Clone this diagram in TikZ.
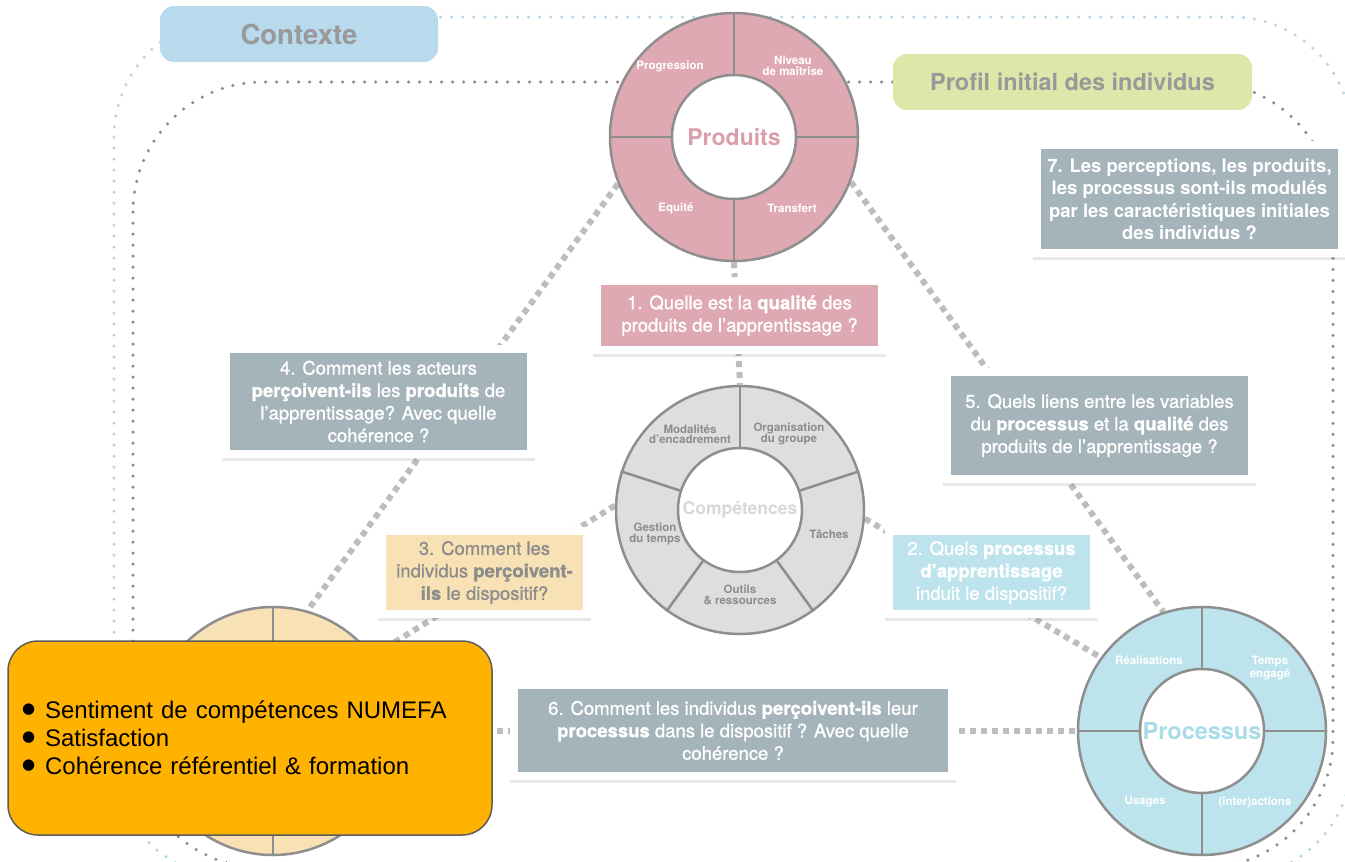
\documentclass[tikz,border=0pt]{standalone}
\usepackage{fontspec}
\setmainfont{TeX Gyre Heros}
\newfontfamily\cardfont[FakeBold=1]{TeX Gyre Heros}
\newfontfamily\slidefont{Liberation Sans}
\newfontfamily\dotfont{DejaVu Sans}
\usepackage{tikz}
\usetikzlibrary{shadows, backgrounds}
\definecolor{rim}{HTML}{8E8E8E}
\definecolor{pinkfill}{HTML}{DFA9B3}
\definecolor{pinktext}{HTML}{DA9EAC}
\definecolor{greyfill}{HTML}{DEDEDE}
\definecolor{greytext}{HTML}{8C8C8C}
\definecolor{centretext}{HTML}{D8D8D8}
\definecolor{bluefill}{HTML}{BDE3EC}
\definecolor{bluetext}{HTML}{A9DCE9}
\definecolor{wheatfill}{HTML}{F9E1B6}
\definecolor{qgrey}{HTML}{A4B4BA}
\definecolor{linkgrey}{HTML}{BDBDBD}
\definecolor{ctxblue}{HTML}{B8DAEC}
\definecolor{ctxdots}{HTML}{B5D8EA}
\definecolor{profgreen}{HTML}{DDE7AA}
\definecolor{profdots}{HTML}{8E8E8E}
\definecolor{amber}{HTML}{FFB300}
\definecolor{amberrim}{HTML}{5C5C5C}
\definecolor{tagtext}{HTML}{999999}
\tikzstyle{ring}=[circle, draw=rim, line width=2.5pt, minimum size=248pt, inner sep=0pt]
\tikzstyle{hole}=[circle, draw=rim, line width=2.5pt, fill=white, minimum size=124pt, inner sep=0pt]
\tikzstyle{spoke}=[draw=rim, line width=2.5pt]
\tikzstyle{seglabel}=[align=center, inner sep=0pt, font=\bfseries\fontsize{11.5}{11}\selectfont]
\tikzstyle{link}=[draw=linkgrey, line width=6pt, dash pattern=on 6pt off 5pt]
\tikzstyle{frame}=[line width=3.5pt, line cap=round, dash pattern=on 0pt off 11pt]
\tikzstyle{tag}=[rectangle, rounded corners=14pt, text=tagtext, minimum height=56pt, font=\bfseries]
\tikzset{card/.style={rectangle, fill=white, inner sep=0pt, align=center,
    drop shadow={shadow xshift=0pt, shadow yshift=-3pt, opacity=.18},
    font=\cardfont\fontsize{18.5}{22.5}\selectfont,
    path picture={\fill[#1] ([shift={(8pt,8pt)}]path picture bounding box.south west)
      rectangle ([shift={(-8pt,-8pt)}]path picture bounding box.north east);}}}
\newcommand{\blob}{\raisebox{5pt}{\dotfont\fontsize{15}{28}\selectfont ●}\hspace{10pt}}

\begin{document}
\begin{tikzpicture}[x=1pt,y=-1pt]
    \useasboundingbox (0,0) rectangle (1345,862);
    % Produits
    \node[ring, fill=pinkfill] (prod) at (734,137) {};
    \foreach \a in {0,90,180,270} \draw[spoke] (prod.\a) -- ++(\a:-62pt);
    \node[hole, text=pinktext, font=\bfseries\fontsize{23}{23}\selectfont] (prodc) at (prod) {Produits};
    \node[seglabel, text=white] (p1) at (670,66) {Progression};
    \node[seglabel, text=white] (p2) at (793,66) {Niveau\\de maîtrise};
    \node[seglabel, text=white] (p3) at (676,208) {Equité};
    \node[seglabel, text=white] (p4) at (792,208) {Transfert};
    % Competences
    \node[ring, fill=greyfill] (comp) at (740,510) {};
    \foreach \a in {90,18,-54,-126,162} \draw[spoke] (comp.\a) -- ++(\a:-62pt);
    \node[hole, text=centretext, font=\bfseries\fontsize{17.5}{17.5}\selectfont] (compc) at (comp) {Compétences};
    \node[seglabel, text=greytext, font=\bfseries\fontsize{11.5}{10.5}\selectfont] (c1) at (690,434) {Modalités\\d’encadrement};
    \node[seglabel, text=greytext, font=\bfseries\fontsize{11.5}{10.5}\selectfont] (c2) at (789,434) {Organisation\\du groupe};
    \node[seglabel, text=greytext, font=\bfseries\fontsize{11.5}{10.5}\selectfont] (c3) at (829,534) {Tâches};
    \node[seglabel, text=greytext, font=\bfseries\fontsize{11.5}{10.5}\selectfont] (c4) at (740,595) {Outils\\\& ressources};
    \node[seglabel, text=greytext, font=\bfseries\fontsize{11.5}{10.5}\selectfont] (c5) at (655,534) {Gestion\\du temps};
    % Processus
    \node[ring, fill=bluefill] (proc) at (1202,731) {};
    \foreach \a in {0,90,180,270} \draw[spoke] (proc.\a) -- ++(\a:-62pt);
    \node[hole, text=bluetext, font=\bfseries\fontsize{23.5}{23.5}\selectfont] (procc) at (proc) {Processus};
    \node[seglabel, text=white] (r1) at (1149,660) {Réalisations};
    \node[seglabel, text=white] (r2) at (1270,668) {Temps\\engagé};
    \node[seglabel, text=white] (r3) at (1145,802) {Usages};
    \node[seglabel, text=white] (r4) at (1255,802) {(inter)actions};
    % Perceptions (behind the box)
    \node[ring, fill=wheatfill] (perc) at (273,731) {};
    \foreach \a in {0,90,180,270} \draw[spoke] (perc.\a) -- ++(\a:-62pt);
    \node[hole] (percc) at (perc) {};

    \begin{scope}[on background layer]
        \draw[frame, draw=ctxdots, rounded corners=120pt] (114,17) rectangle (1352,878);
        \draw[frame, draw=profdots, rounded corners=130pt] (133,82) rectangle (1333,868);
        \draw[link] (prod.south) -- (comp.north);
        \draw[link] (prod.202) -- (perc.74);
        \draw[link] (prod.339) -- (proc.108);
        \draw[link] (comp.178) -- (perc.37);
        \draw[link] (comp.-4) -- (proc.144);
        \draw[link] (perc.east) -- (proc.west);
    \end{scope}

    \node[tag, fill=ctxblue, minimum width=278pt, font=\bfseries\fontsize{27.5}{27.5}\selectfont] (ctx) at (299,34) {Contexte};
    \node[tag, fill=profgreen, minimum width=359pt, font=\bfseries\fontsize{23.5}{23.5}\selectfont] (prof) at (1072.5,82) {Profil initial des individus};

    % questions
    \node[card=pinkfill, text=white, minimum width=293pt, minimum height=77pt] (q1) at (739.5,315.5)
        {1. Quelle est la \textbf{qualité} des\\produits de l’apprentissage ?};
    \node[card=bluefill, text=white, minimum width=213pt, minimum height=91pt] (q2) at (991.5,572.5)
        {2. Quels \textbf{processus}\\\textbf{d’apprentissage}\\induit le dispositif?};
    \node[card=wheatfill, text=greytext, minimum width=213pt, minimum height=91pt] (q3) at (484.5,572.5)
        {3. Comment les\\individus \textbf{perçoivent-}\\\textbf{ils} le dispositif?};
    \node[card=qgrey, text=white, minimum width=313pt, minimum height=113pt] (q4) at (378.5,401.5)
        {4. Comment les acteurs\\\textbf{perçoivent-ils} les \textbf{produits} de\\l’apprentissage? Avec quelle\\cohérence ?};
    \node[card=qgrey, text=white, minimum width=313pt, minimum height=115pt] (q5) at (1099.5,425.5)
        {5. Quels liens entre les variables\\du \textbf{processus} et la \textbf{qualité} des\\produits de l’apprentissage ?};
    \node[card=qgrey, text=white, minimum width=446pt, minimum height=99pt] (q6) at (733,730.5)
        {6. Comment les individus \textbf{perçoivent-ils} leur\\\textbf{processus} dans le dispositif ? Avec quelle\\cohérence ?};
    \node[card=qgrey, text=white, minimum width=313pt, minimum height=116pt, font=\bfseries\fontsize{18.5}{22.5}\selectfont] (q7) at (1189.5,199)
        {7. Les perceptions, les produits,\\les processus sont-ils modulés\\par les caractéristiques initiales\\des individus ?};

    % ressenti
    \node[draw=amberrim, line width=1.5pt, fill=amber, rounded corners=30pt, minimum width=484pt, minimum height=194pt,
        text width=456pt, align=left, font=\slidefont\fontsize{24}{28}\selectfont] (feel) at (250,738)
        {\blob Sentiment de compétences NUMEFA\\
         \blob Satisfaction\\
         \blob Cohérence référentiel \& formation};
\end{tikzpicture}
\end{document}
